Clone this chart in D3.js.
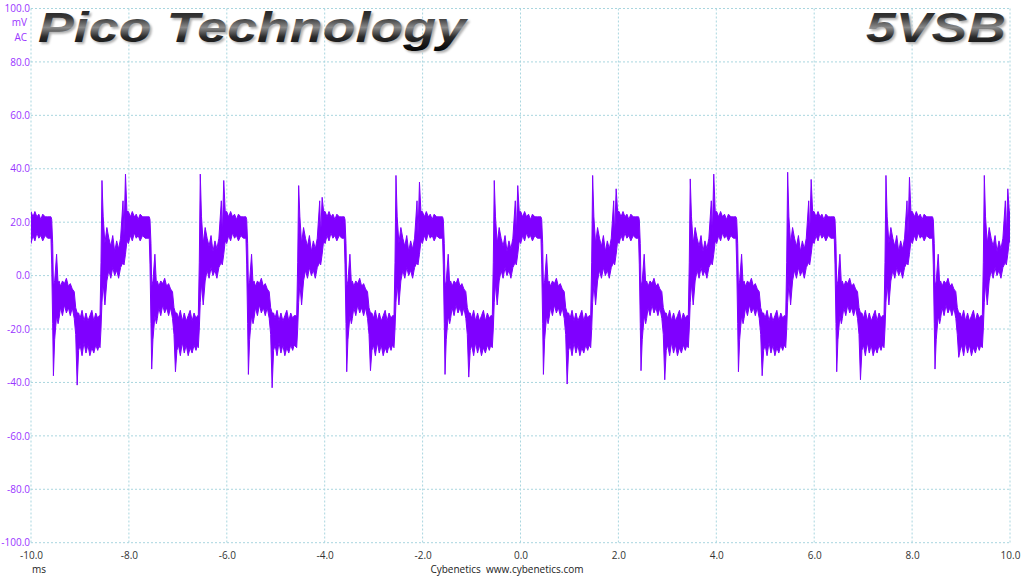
<!DOCTYPE html>
<html>
<head>
<meta charset="utf-8">
<script src="https://cdn.jsdelivr.net/npm/d3@7"></script>
<style>
  body { margin: 0; background: #fff; }
  svg { display: block; }
  .tick text { font-family: "Open Sans", sans-serif; font-size: 10px; }
</style>
</head>
<body>
<div id="chart"></div>
<script>
// axis ticks
var xTicks = [-10, -8, -6, -4, -2, 0, 2, 4, 6, 8, 10];
var yTicks = [-100, -80, -60, -40, -20, 0, 20, 40, 60, 80, 100];

// edges of each ripple cycle (ms)
var fallEdges = [-11.58, -9.577, -7.569, -5.594, -3.585, -1.577, 0.433, 2.427, 4.417, 6.425, 8.433];
var riseEdges = [-10.56, -8.570, -6.562, -4.552, -2.564, -0.556, 1.454, 3.448, 5.438, 7.446, 9.455];

// spike peaks per cycle (mV)
var dropPeak = [-36, -37.5, -35, -37, -36, -37, -37, -35.6, -36, -36, -35];
var stepPeak = [-38, -41, -36, -42, -35.6, -38, -40.6, -39, -37.5, -39, -30.6];
var risePeak = [36, 35.6, 38, 33.7, 37.5, 35.6, 37.5, 36.2, 38.7, 37.5, 37.5];
var kickPeak = [35, 38, 35.6, 29.3, 35, 33.7, 32.5, 38, 36, 36.8, 32.5];

// band envelope after a falling edge: [offset ms, low mV, high mV]
var fallShape = [
  [-0.015, 14, 22], [0.0, 4, 21], [0.02, -18, 12], [0.035, "drop", -4],
  [0.06, -24, -2], [0.1, -15, 8], [0.13, -18, -3], [0.15, -16, -2],
  [0.18, -12, -4], [0.22, -15, -2], [0.26, -11, -3], [0.3, -14, -1],
  [0.34, -12, -4], [0.38, -15, -3], [0.42, -12, -5], [0.46, -16, -6],
  [0.49, -22, -12], [0.52, "step", -14], [0.55, -28, -14], [0.58, -26, -16],
  [0.62, -30, -13], [0.66, -25, -17], [0.7, -29, -14], [0.74, -26, -17],
  [0.78, -30, -15], [0.82, -27, -13], [0.86, -29, -17], [0.9, -26, -14],
  [0.94, -28, -16], [0.97, -26, -15]
];
// band envelope after a rising edge
var riseShape = [
  [-0.02, -27, -15], [0.0, -20, 5], [0.02, -10, "rise"], [0.045, -3, 22],
  [0.08, -11, 12], [0.12, -2, 18], [0.16, 2, 14], [0.2, -1, 11],
  [0.24, 3, 15], [0.28, 0, 9], [0.32, 2, 13], [0.36, -1, 10],
  [0.4, 3, 14], [0.45, 5, 28], [0.47, 4, 15], [0.5, 8, "kick"],
  [0.53, 13, 24], [0.56, 12, 24], [0.6, 15, 22], [0.64, 13, 24],
  [0.68, 16, 22], [0.72, 14, 23], [0.76, 15, 21], [0.8, 13, 23],
  [0.85, 15, 22], [0.9, 14, 22]
];

(function() {
    var W = 1024, H = 576;
    var m = {left: 31, right: 1010, top: 8.5, bottom: 542.7};

    var svg = d3.select("#chart").append("svg")
        .attr("width", W)
        .attr("height", H);

    var x = d3.scaleLinear().domain([-10, 10]).range([m.left, m.right]);
    var y = d3.scaleLinear().domain([-100, 100]).range([m.bottom, m.top]);

    // grid
    svg.append("g").selectAll("line")
        .data(xTicks).enter().append("line")
        .attr("x1", d => x(d)).attr("x2", d => x(d))
        .attr("y1", m.top).attr("y2", m.bottom)
        .attr("stroke", "#a9d6df").attr("stroke-dasharray", "2,2");
    svg.append("g").selectAll("line")
        .data(yTicks).enter().append("line")
        .attr("x1", m.left).attr("x2", m.right)
        .attr("y1", d => y(d)).attr("y2", d => y(d))
        .attr("stroke", "#a9d6df").attr("stroke-dasharray", "2,2");

    // build the envelope from the read values
    var peaks = {drop: dropPeak, step: stepPeak, rise: risePeak, kick: kickPeak};
    function val(v, i) { return typeof v == "string" ? peaks[v][i] : v; }
    var pts = [];
    fallEdges.forEach(function(f, i) {
        fallShape.forEach(function(p) {
            pts.push({t: f + p[0], lo: val(p[1], i), hi: val(p[2], i)});
        });
        riseShape.forEach(function(p) {
            pts.push({t: riseEdges[i] + p[0], lo: val(p[1], i), hi: val(p[2], i)});
        });
    });
    pts.sort((a, b) => a.t - b.t);

    var defs = svg.append("defs");
    defs.append("clipPath").attr("id", "plot")
      .append("rect").attr("x", m.left).attr("y", m.top)
      .attr("width", m.right - m.left).attr("height", m.bottom - m.top);

    var area = d3.area()
        .x(d => x(d.t))
        .y0(d => y(d.lo))
        .y1(d => y(d.hi));

    svg.append("path")
        .datum(pts)
        .attr("clip-path", "url(#plot)")
        .attr("d", area)
        .attr("fill", "#7f00ff")
        .attr("stroke", "#7f00ff")
        .attr("stroke-width", 1)
        .attr("stroke-linejoin", "round");

    // axes
    var yAxis = svg.append("g")
        .attr("transform", "translate(" + (m.left - 1) + ",0)")
        .call(d3.axisLeft(y).tickValues(yTicks).tickSize(0).tickPadding(0)
            .tickFormat(d => d.toFixed(1)));
    yAxis.select(".domain").remove();
    yAxis.selectAll("text").attr("fill", "#9933ff");

    var xAxis = svg.append("g")
        .attr("transform", "translate(0," + m.bottom + ")")
        .call(d3.axisBottom(x).tickValues(xTicks).tickSize(0).tickPadding(9)
            .tickFormat(d => d.toFixed(1)));
    xAxis.select(".domain").remove();
    xAxis.selectAll("text").attr("fill", "#333");

    var unit = svg.append("g")
        .attr("font-family", "Open Sans, sans-serif")
        .attr("font-size", 10)
        .attr("fill", "#9933ff")
        .attr("text-anchor", "end");
    unit.append("text").attr("x", 27).attr("y", 26).text("mV");
    unit.append("text").attr("x", 27).attr("y", 41).text("AC");

    svg.append("text")
        .attr("x", 32).attr("y", 573)
        .attr("font-family", "Open Sans, sans-serif").attr("font-size", 10)
        .attr("fill", "#222").text("ms");
    svg.append("text")
        .attr("x", 507).attr("y", 573)
        .attr("text-anchor", "middle")
        .attr("font-family", "Open Sans, sans-serif").attr("font-size", 10)
        .attr("fill", "#222").attr("xml:space", "preserve")
        .text("Cybenetics  www.cybenetics.com");

    // metallic title text
    var grad = defs.append("linearGradient").attr("id", "metal")
        .attr("x1", 0).attr("y1", 0).attr("x2", 0).attr("y2", 1);
    grad.append("stop").attr("offset", "0%").attr("stop-color", "#111");
    grad.append("stop").attr("offset", "30%").attr("stop-color", "#3a3a3a");
    grad.append("stop").attr("offset", "50%").attr("stop-color", "#8a8a8a");
    grad.append("stop").attr("offset", "70%").attr("stop-color", "#2a2a2a");
    grad.append("stop").attr("offset", "100%").attr("stop-color", "#050505");
    defs.append("filter").attr("id", "blur")
      .append("feGaussianBlur").attr("stdDeviation", 1);

    function title(txt, x0, len) {
        [["#b0b0b0", 2, "url(#blur)"], ["url(#metal)", 0, null]].forEach(function(s) {
            svg.append("text")
                .attr("x", x0 + s[1]).attr("y", 42 + s[1])
                .attr("font-family", "Liberation Sans, Arial, sans-serif")
                .attr("font-size", 42).attr("font-weight", "bold").attr("font-style", "italic")
                .attr("textLength", len).attr("lengthAdjust", "spacingAndGlyphs")
                .attr("fill", s[0])
                .attr("filter", s[2])
                .text(txt);
        });
    }
    title("Pico Technology", 38, 428);
    title("5VSB", 866, 140);
})();
</script>
</body>
</html>
